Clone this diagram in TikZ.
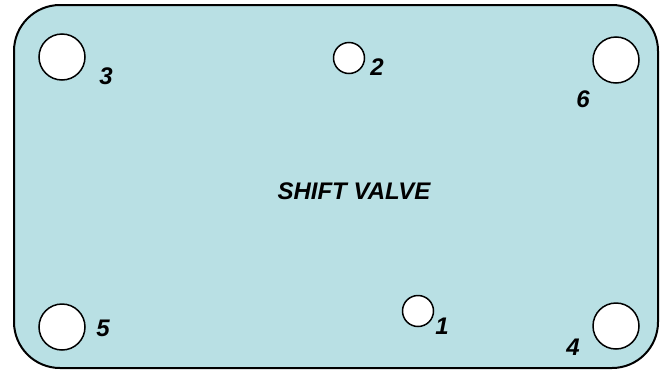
\documentclass[tikz,border=0pt]{standalone}
\usepackage{fontspec}
\setmainfont{Liberation Sans}
\definecolor{plate}{RGB}{185,224,228}
\tikzset{
  hole/.style={circle,draw=black,fill=white,line width=1.5pt,inner sep=0pt},
  big/.style={hole,minimum size=46pt},
  small/.style={hole,minimum size=31pt},
  lab/.style={inner sep=0pt,font=\fontsize{24}{28}\selectfont\bfseries\itshape},
}
\begin{document}
\begin{tikzpicture}[x=1pt,y=-1pt]
\useasboundingbox (0,0) rectangle (666,370);
\draw[line width=2pt,fill=plate,rounded corners=46pt] (14,5) rectangle (658,368);
\node[big] (h3) at (62,57) {};
\node[small] (h2) at (349,58) {};
\node[big] (h6) at (616,60) {};
\node[big] (h5) at (62,327) {};
\node[small] (h1) at (418,311) {};
\node[big] (h4) at (616,326) {};
\node[lab] (l3) at (106,76) {3};
\node[lab] (l2) at (377,67) {2};
\node[lab] (l6) at (583,99) {6};
\node[lab] (l5) at (103,328) {5};
\node[lab] (l1) at (442,326) {1};
\node[lab] (l4) at (573,347) {4};
\node[lab] (title) at (354,191) {SHIFT VALVE};
\end{tikzpicture}
\end{document}
